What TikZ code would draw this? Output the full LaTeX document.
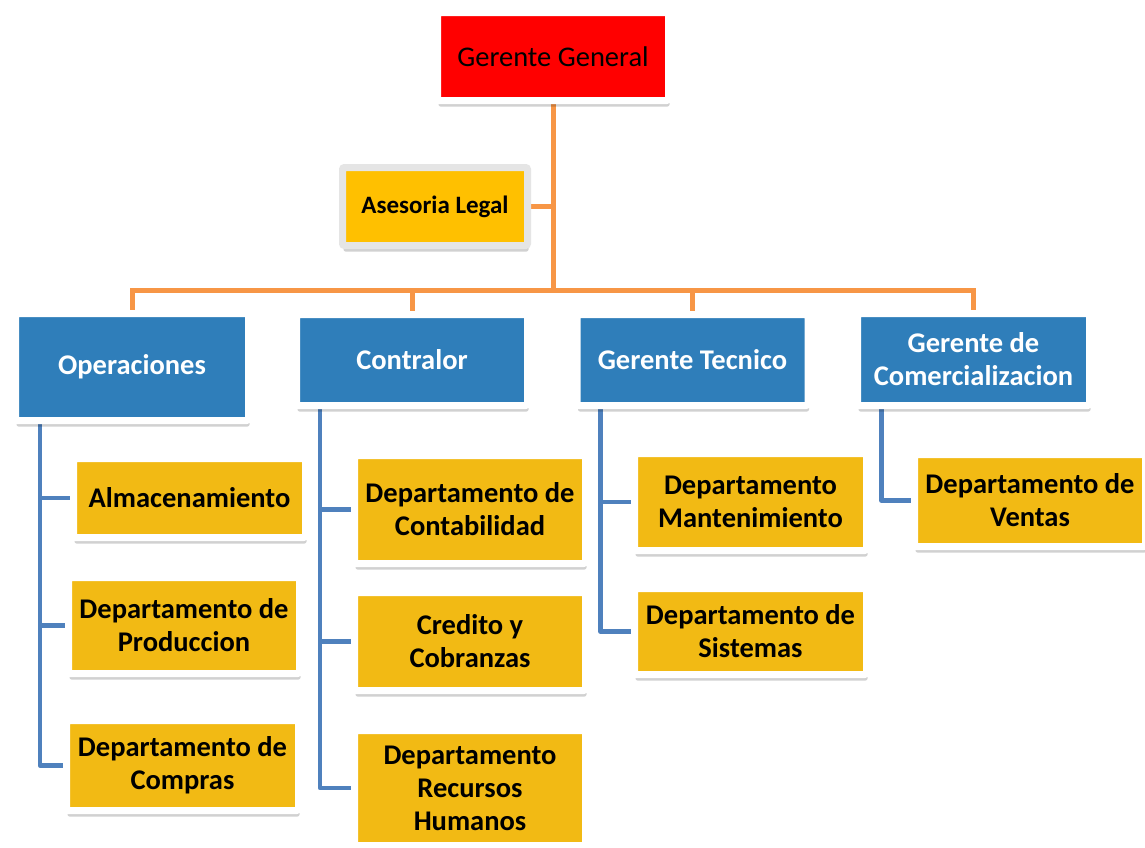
\documentclass[tikz,border=0pt]{standalone}
\usepackage{fontspec}
\setmainfont{Carlito}
\usepackage{xcolor}
\usepackage{tikz}
\usetikzlibrary{shapes,positioning,calc,shadows,backgrounds}

\definecolor{ggRed}{HTML}{FF0000}
\definecolor{legalGold}{HTML}{FFC000}
\definecolor{depGold}{HTML}{F2BA14}
\definecolor{gerBlue}{HTML}{2F7EBA}
\definecolor{orgOrange}{HTML}{F79646}
\definecolor{orgBlue}{HTML}{4F81BD}

\begin{document}
\begin{tikzpicture}[x=1pt, y=-1pt,
    caja/.style={rectangle, draw=white, line width=7pt, rounded corners=2pt, inner sep=0pt, align=center,
        font=\bfseries\fontsize{28.5}{33}\selectfont,
        drop shadow={shadow xshift=1pt, shadow yshift=-6pt, opacity=.18, fill=black}},
    gerente/.style={caja, fill=gerBlue, text=white},
    depto/.style={caja, fill=depGold, text=black},
    naranja/.style={draw=orgOrange, line width=5pt},
    azul/.style={draw=orgBlue, line width=4.5pt, line join=round}]
    \useasboundingbox (0,0) rectangle (1145,847);

    % cabeza
    \node (gg) [caja, fill=ggRed, font=\fontsize{28.5}{33}\selectfont, minimum width=231pt, minimum height=88pt] at (553,56.5) {Gerente General};
    \node (legal) [caja, draw=black!10, fill=legalGold, font=\bfseries\fontsize{25}{30}\selectfont, minimum width=185pt, minimum height=78pt] at (435,206.5) {Asesoria Legal};

    % gerencias
    \node (ops) [gerente, minimum width=233pt, minimum height=107pt] at (132,367) {Operaciones};
    \node (contr) [gerente, minimum width=231pt, minimum height=91pt] at (412,360) {Contralor};
    \node (tec) [gerente, minimum width=231pt, minimum height=91pt] at (692.5,360) {Gerente Tecnico};
    \node (com) [gerente, minimum width=232pt, minimum height=92pt] at (973.5,359.5) {Gerente de\\Comercializacion};

    % departamentos
    \node (alm) [depto, minimum width=232pt, minimum height=79pt] at (189.5,498) {Almacenamiento};
    \node (prod) [depto, minimum width=231pt, minimum height=96pt] at (184,625.5) {Departamento de\\Produccion};
    \node (comp) [depto, minimum width=232pt, minimum height=90pt] at (182.5,765.5) {Departamento de\\Compras};
    \node (cont) [depto, minimum width=231pt, minimum height=108pt] at (470,509.5) {Departamento de\\Contabilidad};
    \node (cred) [depto, minimum width=231pt, minimum height=98pt] at (470,641.5) {Credito y\\Cobranzas};
    \node (rrhh) [depto, minimum width=231pt, minimum height=115pt] at (470,788) {Departamento\\Recursos\\Humanos};
    \node (mant) [depto, minimum width=232pt, minimum height=97pt] at (750.5,502) {Departamento\\Mantenimiento};
    \node (sist) [depto, minimum width=232pt, minimum height=86pt] at (750.5,631.5) {Departamento de\\Sistemas};
    \node (vent) [depto, minimum width=231pt, minimum height=92pt] at (1030,500.5) {Departamento de\\Ventas};

    \coordinate (hub) at (553,290);
    \coordinate (opsS) at ([xshift=-92pt]ops.south);
    \coordinate (contrS) at ([xshift=-92pt]contr.south);
    \coordinate (tecS) at ([xshift=-92pt]tec.south);
    \coordinate (comS) at ([xshift=-92pt]com.south);

    \begin{scope}[on background layer]
        \fill [white] (0,0) rectangle (1145,847);

        \draw [naranja] (gg) -- (hub);
        \draw [naranja] (legal.east) -- (legal.east -| hub);
        \draw [naranja] (ops.north) -- (ops.north |- hub) -- (com.north |- hub) -- (com.north);
        \draw [naranja] (contr.north) -- (contr.north |- hub);
        \draw [naranja] (tec.north) -- (tec.north |- hub);

        \draw [azul] (opsS) |- (comp.west);
        \draw [azul] (alm.west) -- (alm.west -| opsS);
        \draw [azul] (prod.west) -- (prod.west -| opsS);
        \draw [azul] (contrS) |- (rrhh.west);
        \draw [azul] (cont.west) -- (cont.west -| contrS);
        \draw [azul] (cred.west) -- (cred.west -| contrS);
        \draw [azul] (tecS) |- (sist.west);
        \draw [azul] (mant.west) -- (mant.west -| tecS);
        \draw [azul] (comS) |- (vent.west);
    \end{scope}
\end{tikzpicture}
\end{document}
